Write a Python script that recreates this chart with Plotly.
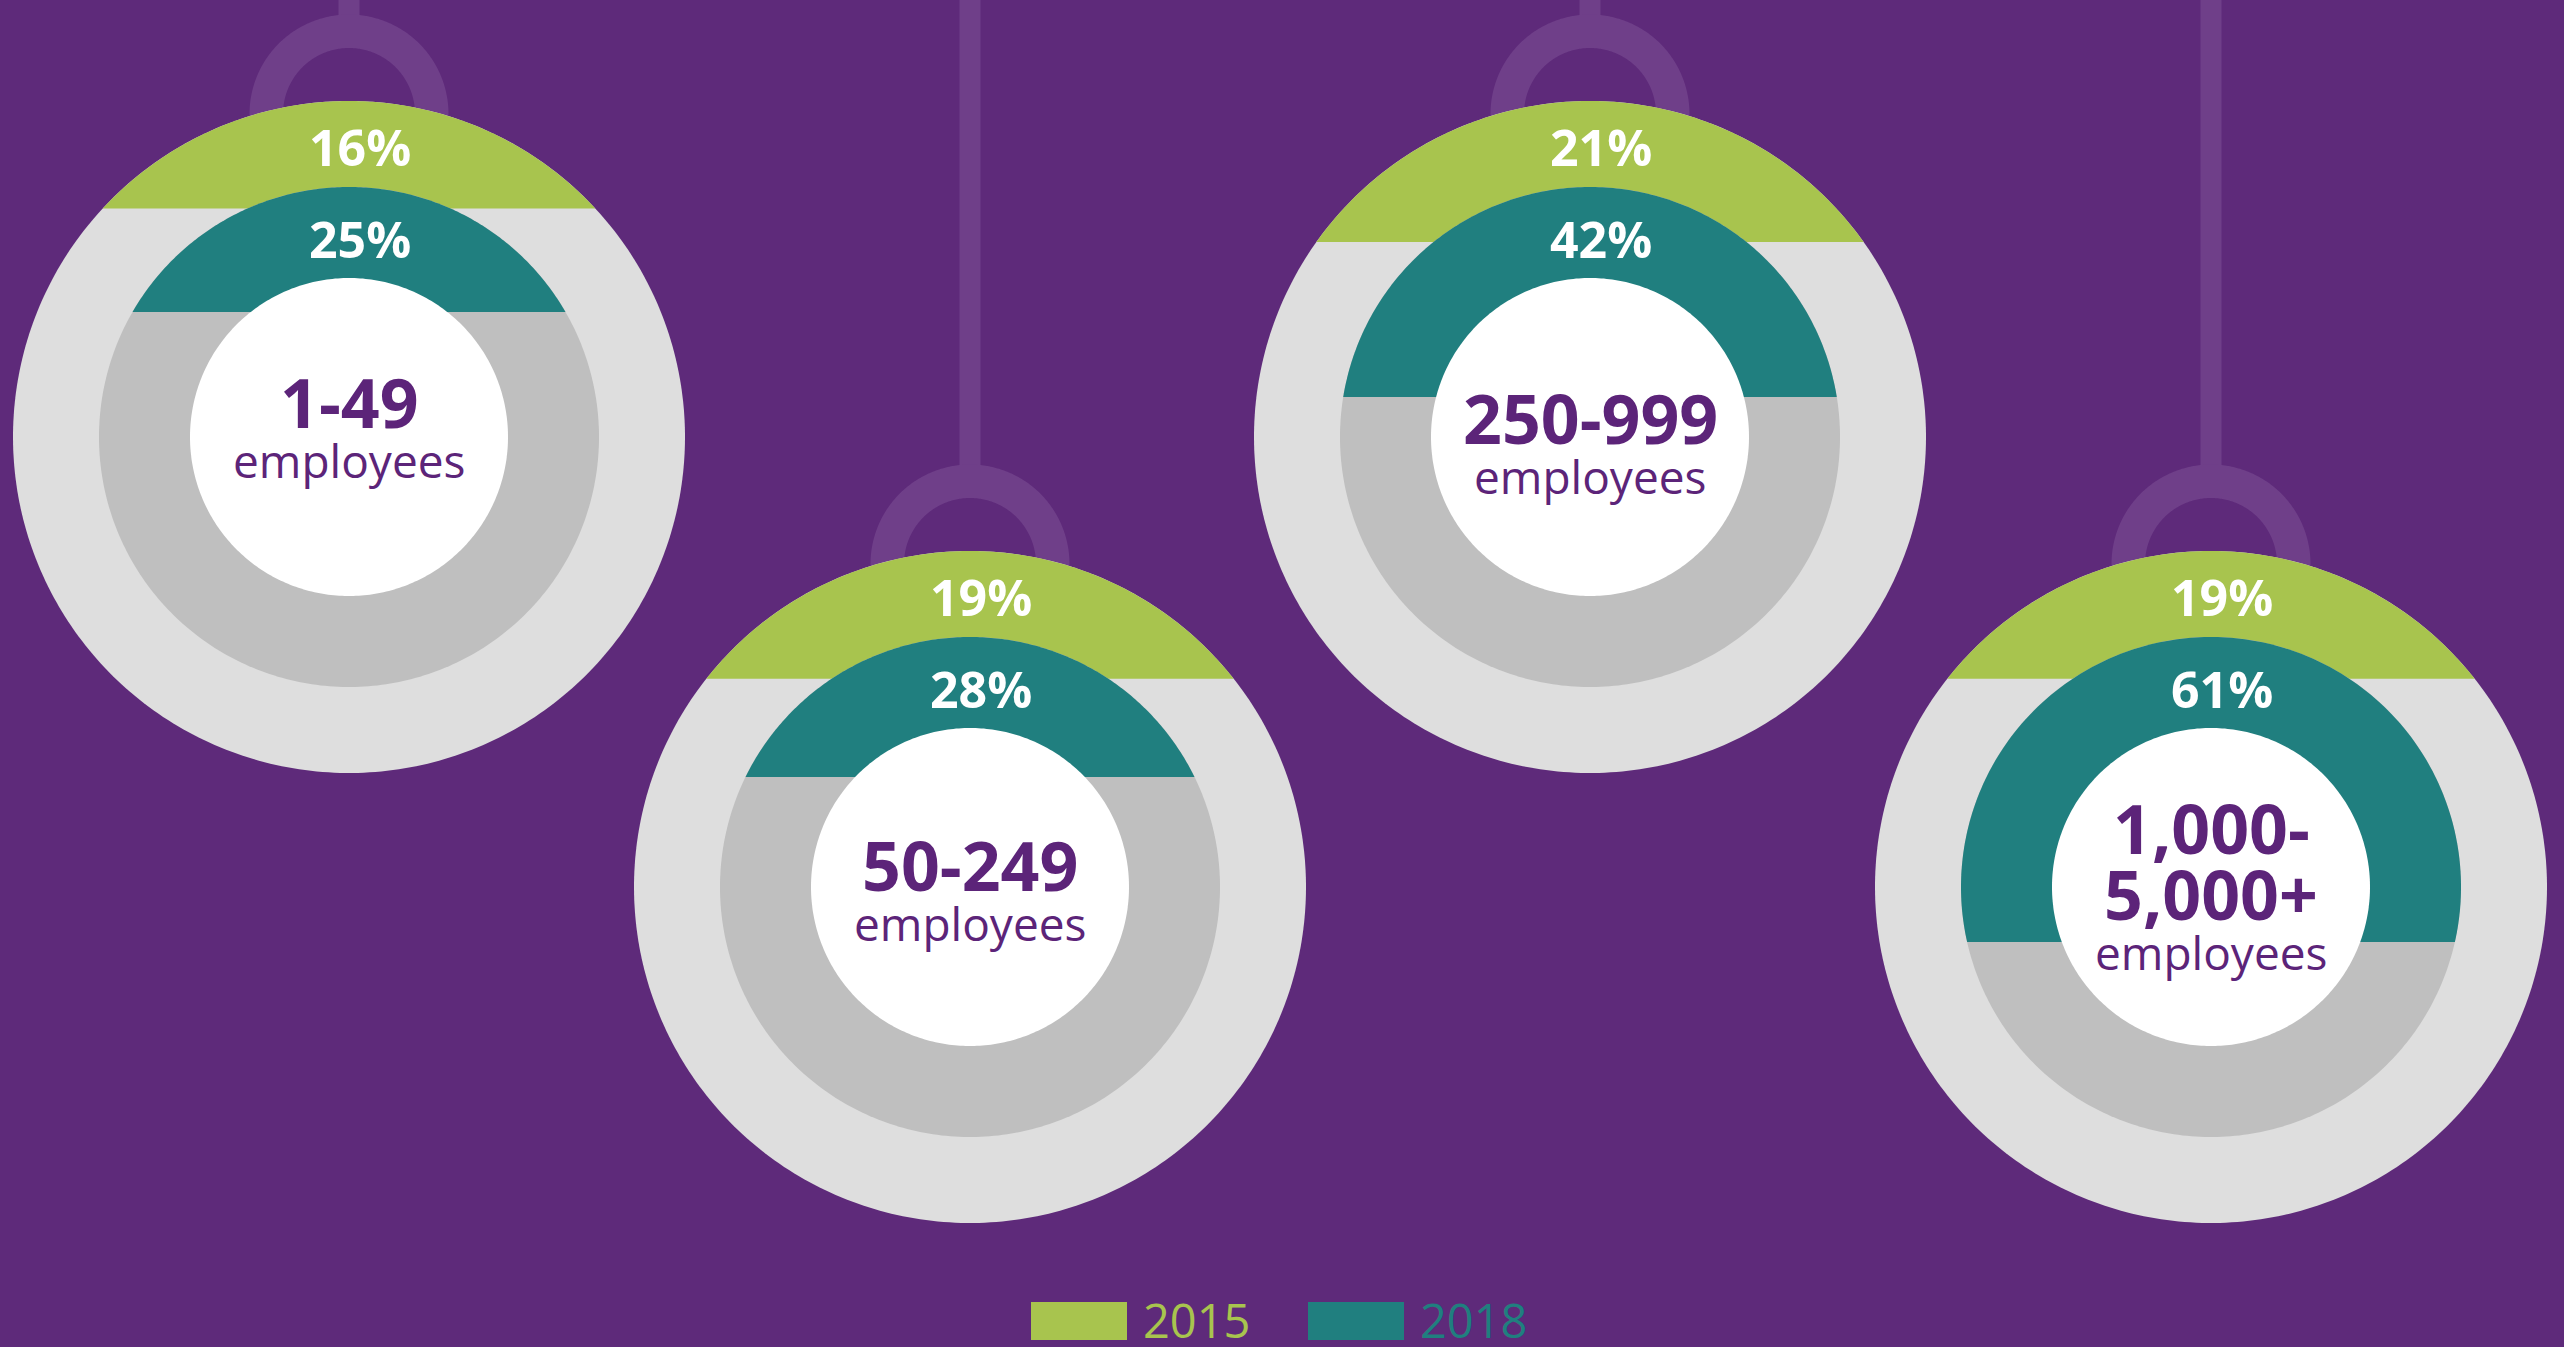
import numpy as np
import plotly.graph_objects as go

# ---------------- data ----------------
groups = ["1-49", "50-249", "250-999", "1,000-|5,000+"]
unit_label = "employees"
years = ["2015", "2018"]
pct_2015 = [16, 19, 21, 19]
pct_2018 = [25, 28, 42, 61]

# ---------------- layout constants ----------------
W, H = 2564, 1347
centers_x = [349, 970, 1590, 2211]
centers_y = [437, 887, 437, 887]
R_OUT, R_IN, R_WHITE = 336, 250, 159
RING_DY, RING_R_OUT, RING_R_IN, STRING_W = 323, 99.5, 66, 21
label_first_dy = [-36, -23, -20, -60]

BG = "#5E2A7A"
HANG = "#6F3F89"
C_2015 = "#A8C44E"
C_2018 = "#207F7F"
LIGHT = "#DEDEDE"
MID = "#BFBFBF"
WHITE = "#FFFFFF"
TXT = "#5C2479"
FONT = "Open Sans"
series_colors = [C_2015, C_2018]

fig = go.Figure()


def circle_pts(cx, cy, r, n=360):
    t = np.linspace(0, 2 * np.pi, n)
    return cx + r * np.sin(t), cy - r * np.cos(t)


def add_poly(x, y, color):
    fig.add_trace(go.Scatter(x=x, y=y, mode="lines", fill="toself",
                             fillcolor=color,
                             line=dict(width=0, color=color, simplify=False),
                             hoverinfo="skip", showlegend=False))


def cap_pts(cx, cy, r, pct, n=200):
    # part of circle above a horizontal level set by pct of its diameter
    level = cy - r + pct / 100.0 * 2 * r
    th0 = np.arccos(np.clip((cy - level) / r, -1, 1))
    t = np.linspace(-th0, th0, n)
    x = cx + r * np.sin(t)
    y = cy - r * np.cos(t)
    return np.append(x, x[0]), np.append(y, y[0])


def annulus_pts(cx, cy, r_out, r_in, n=360):
    xo, yo = circle_pts(cx, cy, r_out, n)
    xi, yi = circle_pts(cx, cy, r_in, n)
    return np.concatenate([xo, xi[::-1]]), np.concatenate([yo, yi[::-1]])


# hangers
for cx, cy in zip(centers_x, centers_y):
    ring_cy = cy - RING_DY
    fig.add_trace(go.Scatter(x=[cx, cx], y=[0, ring_cy - RING_R_OUT + 5], mode="lines",
                             line=dict(color=HANG, width=STRING_W),
                             hoverinfo="skip", showlegend=False))
    add_poly(*annulus_pts(cx, ring_cy, RING_R_OUT, RING_R_IN), HANG)

# ornaments
for i, (cx, cy) in enumerate(zip(centers_x, centers_y)):
    add_poly(*circle_pts(cx, cy, R_OUT), LIGHT)
    add_poly(*cap_pts(cx, cy, R_OUT, pct_2015[i]), C_2015)
    add_poly(*circle_pts(cx, cy, R_IN), MID)
    add_poly(*cap_pts(cx, cy, R_IN, pct_2018[i]), C_2018)
    add_poly(*circle_pts(cx, cy, R_WHITE), WHITE)

annotations = []
for i, (cx, cy) in enumerate(zip(centers_x, centers_y)):
    annotations.append(dict(x=cx + 11, y=cy - 290, text=f"<b>{pct_2015[i]}%</b>",
                            font=dict(family=FONT, size=50, color="white")))
    annotations.append(dict(x=cx + 11, y=cy - 198, text=f"<b>{pct_2018[i]}%</b>",
                            font=dict(family=FONT, size=50, color="white")))
    y = cy + label_first_dy[i]
    lines = groups[i].split("|")
    for j, ln in enumerate(lines):
        annotations.append(dict(x=cx, y=y, text=f"<b>{ln}</b>",
                                font=dict(family=FONT, size=68, color=TXT)))
        if j < len(lines) - 1:
            y += 66
    annotations.append(dict(x=cx, y=y + 59, text=unit_label,
                            font=dict(family=FONT, size=46, color=TXT)))

for a in annotations:
    a.update(xref="x", yref="y", showarrow=False, xanchor="center", yanchor="middle")

# legend
legend_x = [1031, 1308]
for lx, yr, col in zip(legend_x, years, series_colors):
    fig.add_shape(type="rect", x0=lx, x1=lx + 96, y0=1302, y1=1340,
                  fillcolor=col, line=dict(width=0), xref="x", yref="y")
    annotations.append(dict(x=lx + 110, y=1320, text=yr, xref="x", yref="y",
                            showarrow=False, xanchor="left", yanchor="middle",
                            font=dict(family=FONT, size=47, color=col)))

fig.update_layout(
    width=W, height=H, margin=dict(l=0, r=0, t=0, b=0, pad=0),
    paper_bgcolor=BG, plot_bgcolor=BG, showlegend=False,
    xaxis=dict(range=[0, W], visible=False, fixedrange=True),
    yaxis=dict(range=[H, 0], visible=False, fixedrange=True),
    annotations=annotations,
)

fig.write_html("out.html", config={"displayModeBar": False},
               post_script="document.body.style.margin='0';document.body.style.overflow='hidden';")
